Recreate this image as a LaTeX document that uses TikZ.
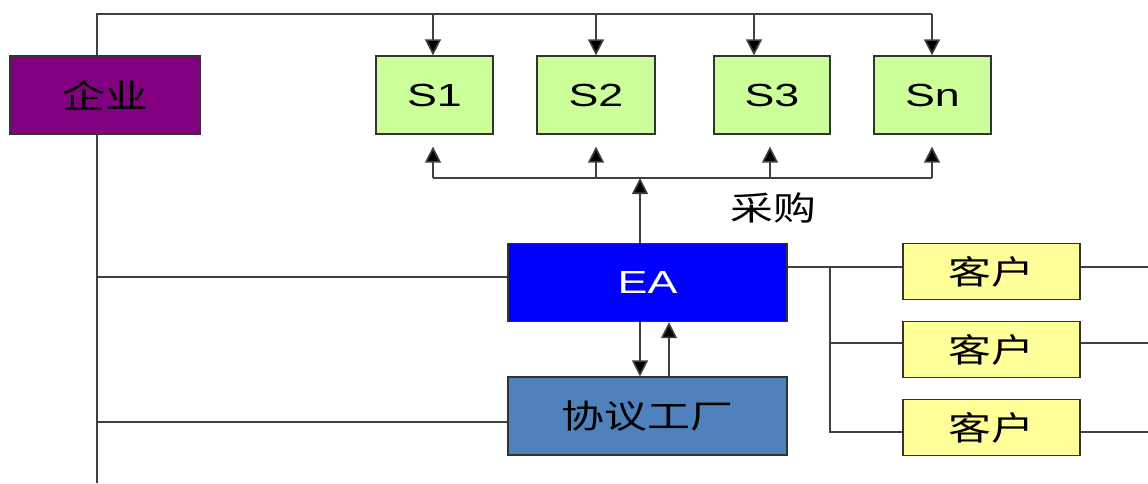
\documentclass[tikz,border=0pt]{standalone}
\usepackage{graphicx}
\usepackage{fontspec}
\setmainfont{Liberation Sans}
\newfontfamily\cjk{Noto Sans CJK SC}
\usetikzlibrary{arrows.meta}
\definecolor{entc}{HTML}{800080}
\definecolor{supc}{HTML}{CCFF99}
\definecolor{eac}{HTML}{0000FF}
\definecolor{facc}{HTML}{4F81BD}
\definecolor{cusc}{HTML}{FFFF99}
\definecolor{linec}{HTML}{404040}
\newcommand\widelat[1]{\scalebox{1.4}[1]{#1}}
\newcommand\widehan[1]{\scalebox{1.3}[1]{#1}}
\tikzset{
  box/.style={draw=linec!80!black, line width=1.3pt, rectangle, inner sep=0pt},
  lat/.style={font=\fontsize{32}{32}\selectfont},
  han/.style={font=\cjk\fontsize{33}{33}\selectfont},
  conn/.style={draw=linec, line width=1.6pt},
  arr/.style={conn, -{Triangle[width=16pt,length=16pt,fill=black]}},
}
\begin{document}
\begin{tikzpicture}[x=1pt,y=-1pt]
\useasboundingbox (0,0) rectangle (1148,483);
% coordinates
\coordinate (botL) at (97,483);
\coordinate (topL) at (97,14);
\coordinate (t1) at (433,14);
\coordinate (t2) at (596,14);
\coordinate (t3) at (754,14);
\coordinate (tn) at (932,14);
\coordinate (b1) at (433,178);
\coordinate (b2) at (596,178);
\coordinate (b3) at (770,178);
\coordinate (bn) at (932,178);
\coordinate (be) at (640,178);
\coordinate (d1) at (640,322);
\coordinate (d2) at (669,322);
\coordinate (L1) at (97,277);
\coordinate (L2) at (97,422);
\coordinate (R0) at (830,267);
\coordinate (R1) at (830,343);
\coordinate (R2) at (830,432);
\coordinate (E0) at (1148,267);
\coordinate (E1) at (1148,343);
\coordinate (E2) at (1148,432);
% left trunk and top bus (drawn first, behind the enterprise box)
\path[conn] (botL) -- (topL) -- (tn);
% nodes
\node[box, fill=entc, minimum width=190pt, minimum height=78pt, han] (ent) at (105,95) {\widehan{企业}};
\node[box, fill=supc, minimum width=117pt, minimum height=78pt, lat] (s1) at (434.5,95) {\widelat{S1}};
\node[box, fill=supc, minimum width=118pt, minimum height=78pt, lat] (s2) at (596,95) {\widelat{S2}};
\node[box, fill=supc, minimum width=116pt, minimum height=78pt, lat] (s3) at (772,95) {\widelat{S3}};
\node[box, fill=supc, minimum width=117pt, minimum height=78pt, lat] (sn) at (932.5,95) {\widelat{Sn}};
\node[box, fill=eac, minimum width=279pt, minimum height=78pt, lat, text=white] (ea) at (647.5,282.5) {\widelat{EA}};
\node[box, fill=facc, minimum width=279pt, minimum height=78pt, han] (fac) at (647.5,416) {\widehan{协议工厂}};
\node[box, fill=cusc, minimum width=177pt, minimum height=56pt, han] (k1) at (991.5,271.5) {\widehan{客户}};
\node[box, fill=cusc, minimum width=177pt, minimum height=56pt, han] (k2) at (991.5,349.5) {\widehan{客户}};
\node[box, fill=cusc, minimum width=177pt, minimum height=56pt, han] (k3) at (991.5,427.5) {\widehan{客户}};
\node[han] (cg) at (773,208) {\widehan{采购}};
% supply arrows
\draw[arr] (t1) -- (t1 |- s1.north);
\draw[arr] (t2) -- (t2 |- s2.north);
\draw[arr] (t3) -- (t3 |- s3.north);
\draw[arr] (tn) -- (tn |- sn.north);
% purchasing bus
\path[conn] (b1) -- (bn);
\draw[arr] (b1) -- ([yshift=-12pt]b1 |- s1.south);
\draw[arr] (b2) -- ([yshift=-12pt]b2 |- s2.south);
\draw[arr] (b3) -- ([yshift=-12pt]b3 |- s3.south);
\draw[arr] (bn) -- ([yshift=-12pt]bn |- sn.south);
\draw[arr] (be |- ea.north) -- (be);
% EA <-> factory
\draw[arr] (d1 |- ea.south) -- (d1 |- fac.north);
\draw[arr] (d2 |- fac.north) -- (d2 |- ea.south);
% left branches
\path[conn] (L1) -- (ea.west |- L1);
\path[conn] (L2) -- (fac.west |- L2);
% customers
\path[conn] (ea.east |- R0) -- (R0) -- (k1.west |- R0);
\path[conn] (R0) -- (R2) -- (k3.west |- R2);
\path[conn] (R1) -- (k2.west |- R1);
\path[conn] (k1.east |- E0) -- (E0);
\path[conn] (k2.east |- E1) -- (E1);
\path[conn] (k3.east |- E2) -- (E2);
\end{tikzpicture}
\end{document}
